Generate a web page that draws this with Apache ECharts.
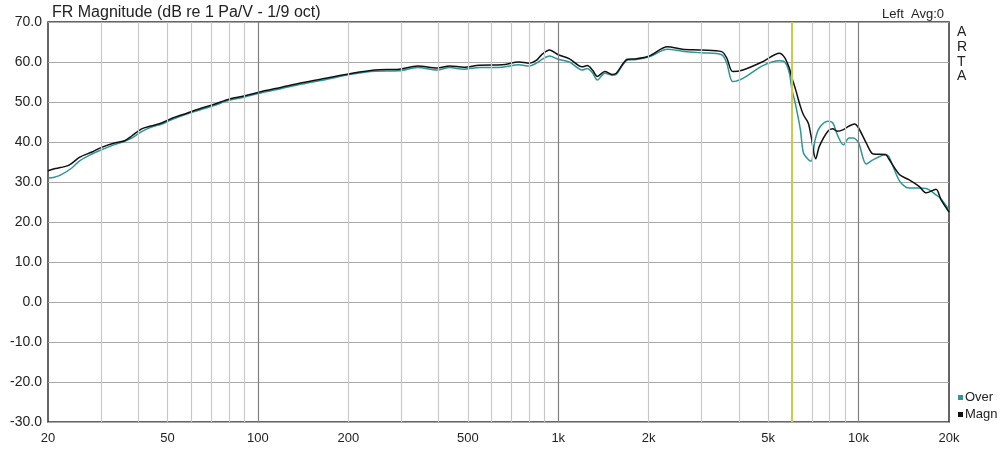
<!DOCTYPE html>
<html>
<head>
<meta charset="utf-8">
<script src="https://cdn.jsdelivr.net/npm/echarts@6/dist/echarts.min.js"></script>
<style>
  html, body { margin: 0; padding: 0; background: #fff; }
  #chart { width: 1000px; height: 450px; }
</style>
</head>
<body>
<div id="chart"></div>
<script>
// frequency (Hz) / level (dB)
var magnFreq = [20, 21, 22, 23.5, 25.5, 28, 30, 33.5, 36, 38, 41, 44, 48, 52, 58, 64, 72, 80, 90, 100,
  120, 140, 170, 200, 245, 295, 340, 395, 435, 485, 545, 650, 740, 800, 845, 880, 935, 1000, 1090, 1200,
  1250, 1300, 1350, 1430, 1510, 1560, 1640, 1700, 1820, 2010, 2310, 2590, 3000, 3500, 3640, 3810, 4120, 4800, 5450, 5660,
  5870, 6000, 6170, 6400, 6550, 6800, 6950, 7200, 7400, 7900, 8200, 8500, 8900, 9300, 9700, 10000, 10600, 11200, 12300, 12600,
  13700, 14700, 15900, 16800, 18100, 18800, 20000];
var magnDb = [32.8, 33.3, 33.6, 34.2, 36.2, 37.5, 38.6, 39.8, 40.3, 41.5, 43.3, 44.0, 44.8, 46.0, 47.2, 48.3, 49.5, 50.7, 51.5, 52.4,
  53.7, 54.8, 56.0, 57.0, 58.0, 58.2, 59.0, 58.5, 59.0, 58.7, 59.2, 59.3, 60.0, 59.7, 60.4, 61.8, 63.0, 61.8, 60.8, 58.8,
  59.1, 58.0, 56.4, 57.6, 56.9, 57.2, 59.5, 60.7, 60.8, 61.5, 63.8, 63.2, 63.0, 62.6, 61.0, 57.6, 58.0, 60.1, 62.2, 61.2,
  58.6, 56.0, 53.1, 48.9, 46.8, 44.7, 41.4, 35.8, 38.9, 42.7, 43.3, 42.7, 43.1, 44.0, 44.5, 43.5, 39.8, 37.0, 36.9, 35.8,
  31.8, 30.6, 28.9, 27.3, 28.2, 25.6, 22.5];

var overFreq = [20, 21, 22, 24, 25.5, 28, 30, 33.5, 36, 38, 41, 44, 48, 52, 58, 64, 72, 80, 90, 100,
  120, 140, 170, 200, 245, 295, 340, 395, 435, 485, 545, 650, 740, 800, 845, 880, 935, 1000, 1090, 1200,
  1250, 1300, 1350, 1430, 1510, 1560, 1640, 1700, 1820, 2010, 2310, 2590, 3000, 3500, 3640, 3810, 4120, 4800, 5450, 5660,
  5870, 6000, 6170, 6400, 6550, 6800, 6950, 7170, 7400, 7900, 8200, 8500, 8900, 9300, 9600, 10000, 10600, 11200, 12300, 12600,
  13700, 14700, 15900, 16800, 18100, 18800, 20000];
var overDb = [31.0, 31.2, 31.7, 33.5, 35.3, 37.0, 38.0, 39.4, 40.2, 41.0, 42.6, 43.7, 44.5, 45.7, 47.0, 48.0, 49.2, 50.4, 51.2, 52.1,
  53.4, 54.5, 55.7, 56.8, 57.7, 57.8, 58.6, 58.0, 58.6, 58.2, 58.6, 58.7, 59.3, 59.0, 59.7, 60.6, 61.5, 60.7, 60.0, 58.0,
  58.4, 57.3, 55.5, 57.2, 56.7, 56.9, 59.3, 60.5, 60.6, 61.3, 63.2, 62.7, 62.3, 61.8, 59.7, 55.1, 55.9, 59.1, 60.3, 60.1,
  57.5, 53.1, 49.3, 43.1, 37.3, 35.6, 35.2, 40.6, 43.5, 45.2, 44.8, 41.8, 39.3, 41.0, 41.0, 39.8, 34.5, 35.6, 36.8, 36.4,
  30.2, 28.5, 28.5, 28.4, 26.8, 25.8, 23.0];

// vertical grid lines and x tick labels
var gridFreqs = [30, 40, 50, 60, 70, 80, 90, 100, 200, 300, 400, 500, 600, 700, 800, 900, 1000,
  2000, 3000, 4000, 5000, 6000, 7000, 8000, 9000, 10000];
var majorFreqs = [100, 1000, 10000];
var tickFreqs = [20, 50, 100, 200, 500, 1000, 2000, 5000, 10000, 20000];
var tickLabels = ["20", "50", "100", "200", "500", "1k", "2k", "5k", "10k", "20k"];
var markerFreq = 6000;

var font = "Liberation Sans";

function pairs(xs, ys) {
  return xs.map(function (x, i) { return [x, ys[i]]; });
}

var gridLines = gridFreqs.map(function (f) {
  return {
    xAxis: f,
    lineStyle: { color: majorFreqs.indexOf(f) >= 0 ? "#808080" : "#c8c8c8", width: 1.2, type: "solid" },
    label: { show: false }
  };
});
var labelLines = tickFreqs.map(function (f, i) {
  return {
    xAxis: f,
    lineStyle: { color: "rgba(0,0,0,0)", width: 0 },
    label: { show: true, position: "start", distance: 10, formatter: tickLabels[i], color: "#222", fontSize: 13, fontFamily: font }
  };
});

var chart = echarts.init(document.getElementById("chart"));
chart.setOption({
  animation: false,
  textStyle: { fontFamily: font },
  title: [
    { text: "FR Magnitude (dB re 1 Pa/V - 1/9 oct)", left: 47, top: 0,
      textStyle: { fontSize: 16, fontWeight: "normal", color: "#222", fontFamily: font } },
    { text: "Left  Avg:0", right: 51, top: 3,
      textStyle: { fontSize: 13, fontWeight: "normal", color: "#222", fontFamily: font } },
    { text: "A\nR\nT\nA", left: 952, top: 20,
      textStyle: { fontSize: 14, fontWeight: "normal", color: "#222", lineHeight: 14.7, fontFamily: font } }
  ],
  legend: {
    data: ["Over", "Magn"],
    orient: "vertical",
    left: 953,
    top: 386,
    icon: "rect",
    itemWidth: 5,
    itemHeight: 5,
    itemGap: 4,
    textStyle: { fontSize: 13, color: "#222", padding: [0, 0, 0, -3], fontFamily: font }
  },
  grid: {
    left: 48, right: 51, top: 22, bottom: 28,
    show: true, borderColor: "#333", borderWidth: 1.5, backgroundColor: "#fff"
  },
  xAxis: {
    type: "log",
    logBase: 10,
    min: 20,
    max: 20000,
    axisLine: { show: false },
    axisTick: { show: false },
    axisLabel: { show: false },
    splitLine: { show: false }
  },
  yAxis: {
    type: "value",
    min: -30,
    max: 70,
    interval: 10,
    axisLine: { show: false },
    axisTick: { show: false },
    axisLabel: {
      color: "#222", fontSize: 14, margin: 6, fontFamily: font,
      formatter: function (v) { return v.toFixed(1); }
    },
    splitLine: { lineStyle: { color: "#a8a8a8", width: 1.2 } }
  },
  series: [
    {
      name: "grid",
      type: "line",
      data: [],
      silent: true,
      z: 1,
      markLine: { silent: true, symbol: "none", animation: false, data: gridLines.concat(labelLines) }
    },
    {
      name: "marker",
      type: "line",
      data: [],
      silent: true,
      z: 2,
      markLine: {
        silent: true, symbol: "none", animation: false,
        data: [{ xAxis: markerFreq, lineStyle: { color: "#cfc84c", width: 2, type: "solid" }, label: { show: false } }]
      }
    },
    {
      name: "Over",
      type: "line",
      data: pairs(overFreq, overDb),
      showSymbol: false,
      smooth: 0.3,
      z: 3,
      color: "#2e9696",
      lineStyle: { width: 1.5, color: "#2e9696" }
    },
    {
      name: "Magn",
      type: "line",
      data: pairs(magnFreq, magnDb),
      showSymbol: false,
      smooth: 0.3,
      z: 4,
      color: "#111",
      lineStyle: { width: 1.5, color: "#111" }
    }
  ]
});
</script>
</body>
</html>
